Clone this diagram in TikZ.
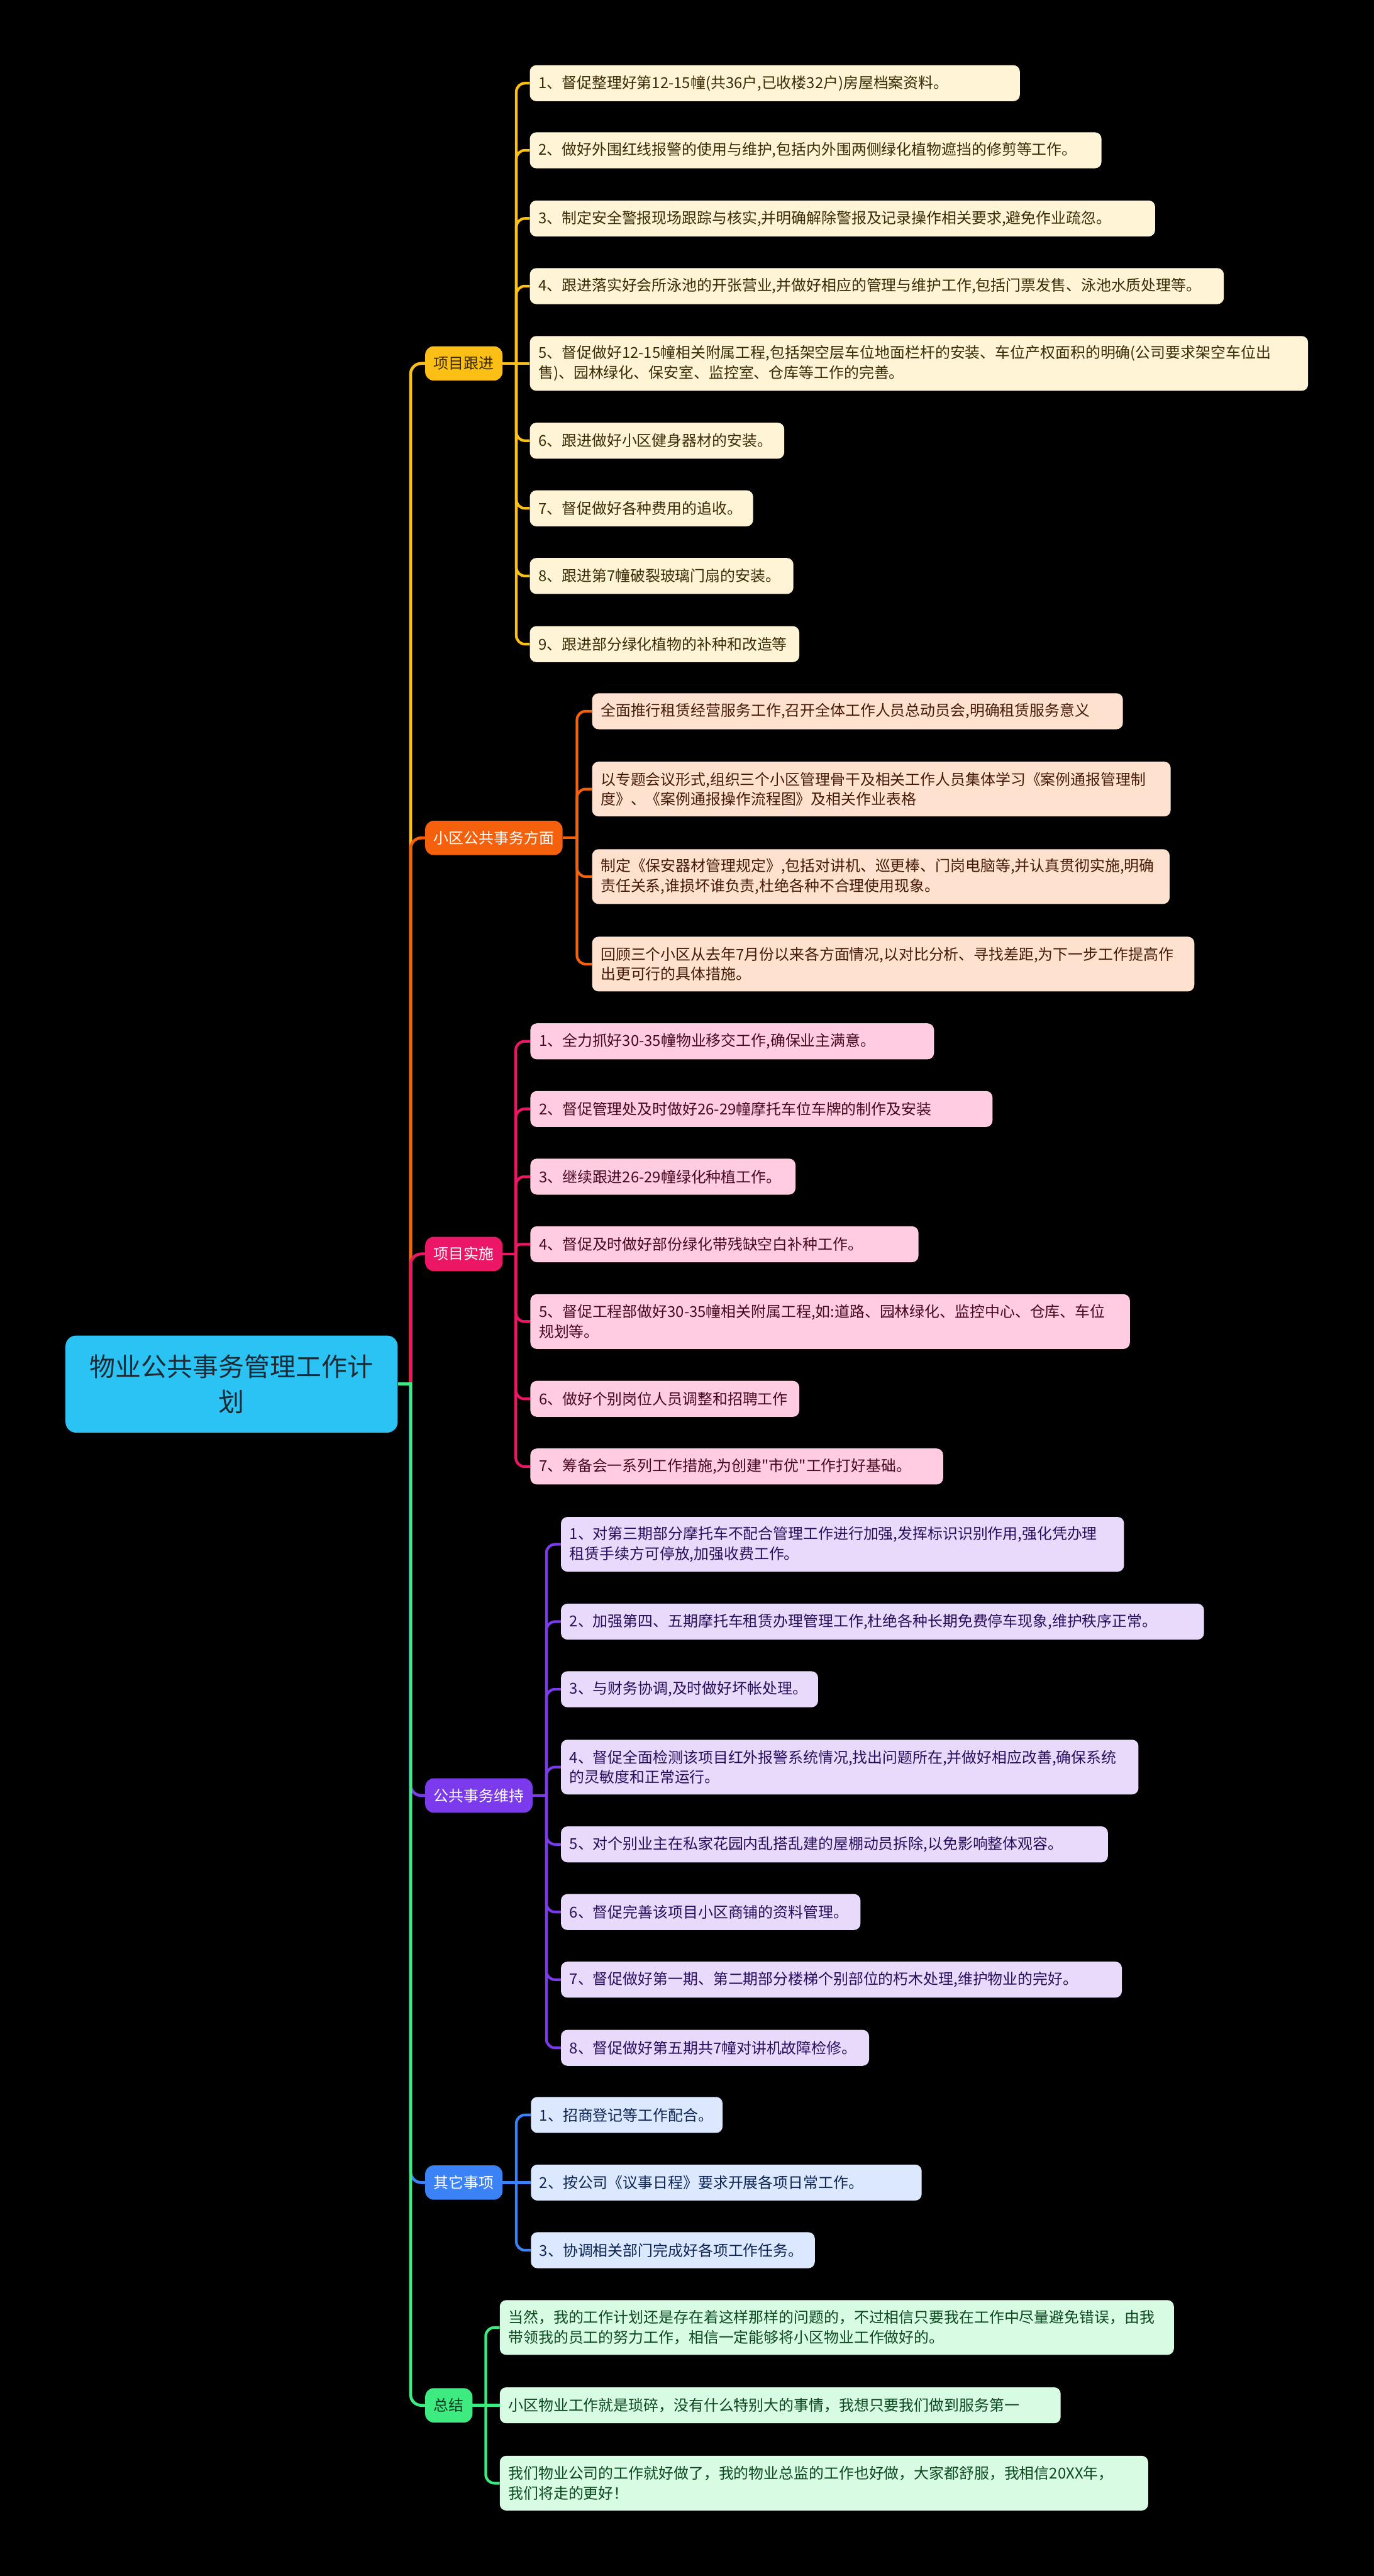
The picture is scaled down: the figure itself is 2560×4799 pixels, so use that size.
\documentclass[tikz,border=0pt]{standalone}
\usepackage{fontspec}
\newfontfamily\cjk{Noto Sans CJK SC}
\usetikzlibrary{calc}
\pgfdeclarelayer{bg}
\pgfdeclarelayer{lines}
\pgfsetlayers{bg,lines,main}

\definecolor{rootfill}{HTML}{2BC3F3}
\definecolor{roottext}{HTML}{1B2A35}
\definecolor{cA}{HTML}{FBBF16}
\definecolor{cB}{HTML}{F4600C}
\definecolor{cC}{HTML}{EC1666}
\definecolor{cD}{HTML}{7C3AED}
\definecolor{cE}{HTML}{3B82F6}
\definecolor{cF}{HTML}{3DEB80}
\definecolor{fA}{HTML}{FFF4D6}
\definecolor{fB}{HTML}{FFE1CF}
\definecolor{fC}{HTML}{FFCCE1}
\definecolor{fD}{HTML}{E7DAFB}
\definecolor{fE}{HTML}{DCE8FD}
\definecolor{fF}{HTML}{D8FBE3}
\definecolor{tA}{HTML}{3A2C05}
\definecolor{tB}{HTML}{451A08}
\definecolor{tC}{HTML}{480820}
\definecolor{tD}{HTML}{2A0E5E}
\definecolor{tE}{HTML}{0D2656}
\definecolor{tF}{HTML}{0B4A1F}
\definecolor{bAtext}{HTML}{3A2A00}
\definecolor{bFtext}{HTML}{0B3D1E}

\begin{document}
\begin{tikzpicture}[x=1pt,y=-1pt,
  rootbox/.style={rounded corners=20pt, fill=rootfill, text=roottext, align=center,
    minimum width=619pt, minimum height=181pt, inner sep=0pt,
    font=\cjk\fontsize{48pt}{66pt}\selectfont},
  branch/.style={rounded corners=16pt, inner xsep=16pt, inner ysep=0pt,
    minimum height=64pt, anchor=west, font=\cjk\fontsize{28pt}{34pt}\selectfont},
  leaf/.style={rounded corners=12pt, inner xsep=16pt, inner ysep=0pt, align=left,
    anchor=west, minimum height=67pt, font=\cjk\fontsize{28pt}{37pt}\selectfont},
  tall/.style={minimum height=102pt},
  lA/.style={leaf, fill=fA, text=tA},
  lB/.style={leaf, fill=fB, text=tB},
  lC/.style={leaf, fill=fC, text=tC},
  lD/.style={leaf, fill=fD, text=tD},
  lE/.style={leaf, fill=fE, text=tE},
  lF/.style={leaf, fill=fF, text=tF},
  mainline/.style={line width=5.5pt, rounded corners=20pt},
  subline/.style={line width=5pt, rounded corners=16pt}
]
\begin{pgfonlayer}{bg}
\fill[black] (0,0) rectangle (2560,4799);
\end{pgfonlayer}
\useasboundingbox (0,0) rectangle (2560,4799);

% root
\node[rootbox] (root) at (431.5,2578.5) {物业公共事务管理工作计\\划};

% trunk coordinates
\coordinate (T) at (765,0);
\coordinate (t1) at (962,0);
\coordinate (t2) at (1075,0);
\coordinate (t3) at (961,0);
\coordinate (t4) at (1018,0);
\coordinate (t5) at (962,0);
\coordinate (t6) at (905,0);

% branches
\node[branch, fill=cA, text=bAtext] (b1) at (792,677) {项目跟进};
\node[branch, fill=cB, text=white] (b2) at (792,1561) {小区公共事务方面};
\node[branch, fill=cC, text=white] (b3) at (792,2336) {项目实施};
\node[branch, fill=cD, text=white] (b4) at (792,3345) {公共事务维持};
\node[branch, fill=cE, text=white] (b5) at (792,4066) {其它事项};
\node[branch, fill=cF, text=bFtext] (b6) at (792,4481) {总结};

% branch 1 leaves
\node[lA, text width=881pt] (l11) at (987,155) {1、督促整理好第12-15幢(共36户,已收楼32户)房屋档案资料。};
\node[lA, text width=1033pt] (l12) at (987,280) {2、做好外围红线报警的使用与维护,包括内外围两侧绿化植物遮挡的修剪等工作。};
\node[lA, text width=1133pt] (l13) at (987,407) {3、制定安全警报现场跟踪与核实,并明确解除警报及记录操作相关要求,避免作业疏忽。};
\node[lA, text width=1261pt] (l14) at (987,533) {4、跟进落实好会所泳池的开张营业,并做好相应的管理与维护工作,包括门票发售、泳池水质处理等。};
\node[lA, tall, text width=1418pt] (l15) at (987,677) {5、督促做好12-15幢相关附属工程,包括架空层车位地面栏杆的安装、车位产权面积的明确(公司要求架空车位出\\售)、园林绿化、保安室、监控室、仓库等工作的完善。};
\node[lA, text width=442pt] (l16) at (987,821) {6、跟进做好小区健身器材的安装。};
\node[lA, text width=384pt] (l17) at (987,947) {7、督促做好各种费用的追收。};
\node[lA, text width=459pt] (l18) at (987,1073) {8、跟进第7幢破裂玻璃门扇的安装。};
\node[lA, text width=470pt] (l19) at (987,1200) {9、跟进部分绿化植物的补种和改造等};

% branch 2 leaves
\node[lB, text width=957pt] (l21) at (1103,1325) {全面推行租赁经营服务工作,召开全体工作人员总动员会,明确租赁服务意义};
\node[lB, tall, text width=1046pt] (l22) at (1103,1470) {以专题会议形式,组织三个小区管理骨干及相关工作人员集体学习《案例通报管理制\\度》、《案例通报操作流程图》及相关作业表格};
\node[lB, tall, text width=1044pt] (l23) at (1103,1633) {制定《保安器材管理规定》,包括对讲机、巡更棒、门岗电脑等,并认真贯彻实施,明确\\责任关系,谁损坏谁负责,杜绝各种不合理使用现象。};
\node[lB, tall, text width=1090pt] (l24) at (1103,1796) {回顾三个小区从去年7月份以来各方面情况,以对比分析、寻找差距,为下一步工作提高作\\出更可行的具体措施。};

% branch 3 leaves
\node[lC, text width=720pt] (l31) at (988,1940) {1、全力抓好30-35幢物业移交工作,确保业主满意。};
\node[lC, text width=829pt] (l32) at (988,2066) {2、督促管理处及时做好26-29幢摩托车位车牌的制作及安装};
\node[lC, text width=462pt] (l33) at (988,2192) {3、继续跟进26-29幢绿化种植工作。};
\node[lC, text width=691pt] (l34) at (988,2318) {4、督促及时做好部份绿化带残缺空白补种工作。};
\node[lC, tall, text width=1085pt] (l35) at (988,2462) {5、督促工程部做好30-35幢相关附属工程,如:道路、园林绿化、监控中心、仓库、车位\\规划等。};
\node[lC, text width=469pt] (l36) at (988,2606) {6、做好个别岗位人员调整和招聘工作};
\node[lC, text width=737pt] (l37) at (988,2732) {7、筹备会一系列工作措施,为创建"市优"工作打好基础。};

% branch 4 leaves
\node[lD, tall, text width=1017pt] (l41) at (1045,2877) {1、对第三期部分摩托车不配合管理工作进行加强,发挥标识识别作用,强化凭办理\\租赁手续方可停放,加强收费工作。};
\node[lD, text width=1166pt] (l42) at (1045,3021) {2、加强第四、五期摩托车租赁办理管理工作,杜绝各种长期免费停车现象,维护秩序正常。};
\node[lD, text width=447pt] (l43) at (1045,3147) {3、与财务协调,及时做好坏帐处理。};
\node[lD, tall, text width=1044pt] (l44) at (1045,3292) {4、督促全面检测该项目红外报警系统情况,找出问题所在,并做好相应改善,确保系统\\的灵敏度和正常运行。};
\node[lD, text width=987pt] (l45) at (1045,3436) {5、对个别业主在私家花园内乱搭乱建的屋棚动员拆除,以免影响整体观容。};
\node[lD, text width=526pt] (l46) at (1045,3562) {6、督促完善该项目小区商铺的资料管理。};
\node[lD, text width=1013pt] (l47) at (1045,3688) {7、督促做好第一期、第二期部分楼梯个别部位的朽木处理,维护物业的完好。};
\node[lD, text width=542pt] (l48) at (1045,3815) {8、督促做好第五期共7幢对讲机故障检修。};

% branch 5 leaves
\node[lE, text width=325pt] (l51) at (989,3940) {1、招商登记等工作配合。};
\node[lE, text width=696pt] (l52) at (989,4066) {2、按公司《议事日程》要求开展各项日常工作。};
\node[lE, text width=497pt] (l53) at (989,4192) {3、协调相关部门完成好各项工作任务。};

% branch 6 leaves
\node[lF, tall, text width=1224pt] (l61) at (931,4336) {当然，我的工作计划还是存在着这样那样的问题的，不过相信只要我在工作中尽量避免错误，由我\\带领我的员工的努力工作，相信一定能够将小区物业工作做好的。};
\node[lF, text width=1013pt] (l62) at (931,4481) {小区物业工作就是琐碎，没有什么特别大的事情，我想只要我们做到服务第一};
\node[lF, tall, text width=1176pt] (l63) at (931,4626) {我们物业公司的工作就好做了，我的物业总监的工作也好做，大家都舒服，我相信20XX年，\\我们将走的更好！};

\begin{pgfonlayer}{lines}
% main trunk
\coordinate (J) at (root.east -| T);
\draw[mainline, cA] (J) |- (b1.west);
\draw[mainline, cB] (J) |- (b2.west);
\draw[mainline, cC] (J) |- (b3.west);
\draw[mainline, cD] (J) |- (b4.west);
\draw[mainline, cE] (J) |- (b5.west);
\draw[mainline, cF] (J) |- (b6.west);
\draw[mainline, cF] (root.east) -- ([xshift=2.75pt]J);

% branch 1
\draw[subline, cA] (b1.east) -- (l15.west);
\foreach \n in {11,12,13,14,16,17,18,19}
  \draw[subline, cA] (b1.east -| t1) |- (l\n.west);
% branch 2
\draw[subline, cB] (b2.east) -- (b2.east -| t2);
\foreach \n in {21,22,23,24}
  \draw[subline, cB] (b2.east -| t2) |- (l\n.west);
% branch 3
\draw[subline, cC] (b3.east) -- (b3.east -| t3);
\foreach \n in {31,32,33,35,36,37}
  \draw[subline, cC] (b3.east -| t3) |- (l\n.west);
\draw[subline, cC, rounded corners=8pt] (b3.east -| t3) |- (l34.west);
% branch 4
\draw[subline, cD] (b4.east) -- (b4.east -| t4);
\foreach \n in {41,42,43,44,45,46,47,48}
  \draw[subline, cD] (b4.east -| t4) |- (l\n.west);
% branch 5
\draw[subline, cE] (b5.east) -- (l52.west);
\foreach \n in {51,53}
  \draw[subline, cE] (b5.east -| t5) |- (l\n.west);
% branch 6
\draw[subline, cF] (b6.east) -- (l62.west);
\foreach \n in {61,63}
  \draw[subline, cF] (b6.east -| t6) |- (l\n.west);
\end{pgfonlayer}
\end{tikzpicture}
\end{document}
